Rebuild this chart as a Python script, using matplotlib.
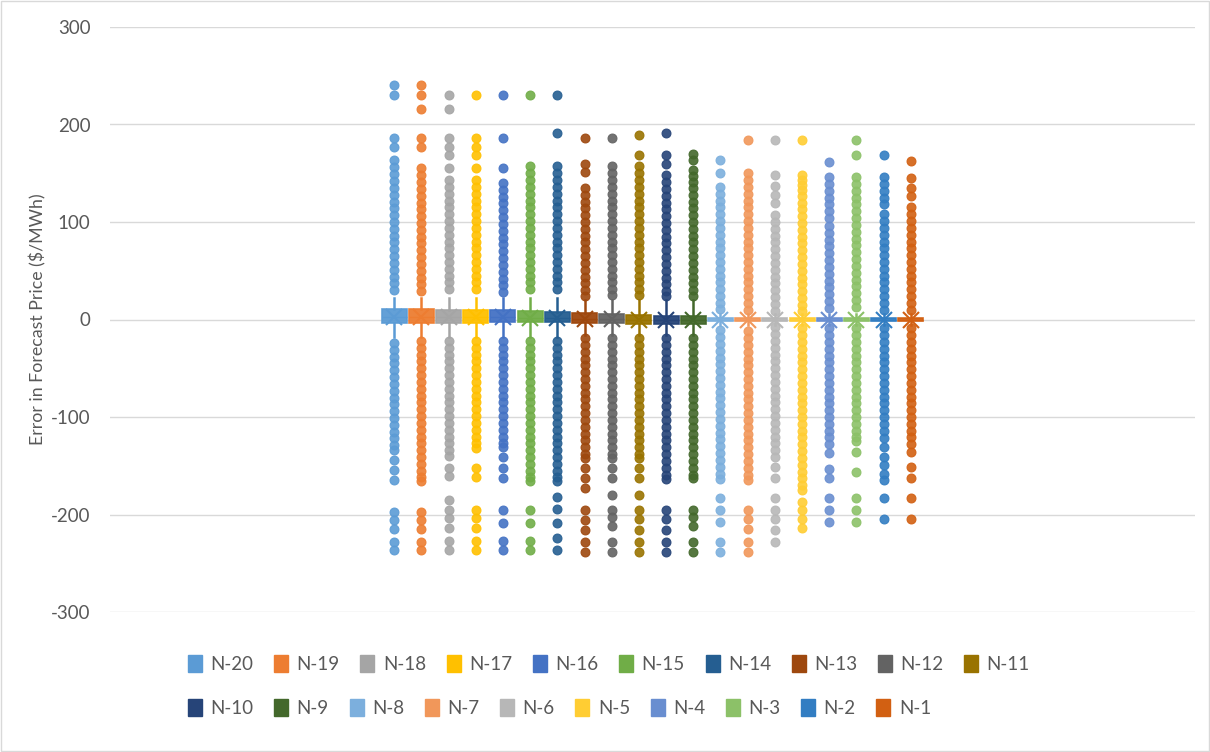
import matplotlib
matplotlib.use("Agg")
import matplotlib.pyplot as plt
from matplotlib.patches import Patch, Rectangle

plt.rcParams["font.family"] = ["Lato", "DejaVu Sans"]
plt.rcParams["axes.unicode_minus"] = False

TEXT = "#595959"
GRID = "#d9d9d9"

names = ["N-20", "N-19", "N-18", "N-17", "N-16", "N-15", "N-14", "N-13", "N-12", "N-11",
         "N-10", "N-9", "N-8", "N-7", "N-6", "N-5", "N-4", "N-3", "N-2", "N-1"]
colors = ["#5B9BD5", "#ED7D31", "#A5A5A5", "#FFC000", "#4472C4", "#70AD47", "#255E91", "#9E480E",
          "#636363", "#997300", "#264478", "#43682B", "#7CAFDD", "#F1975A", "#B7B7B7", "#FFCD33",
          "#698ED0", "#8CC168", "#327DC2", "#D26012"]

# box statistics
q1 = [-4, -4, -4, -4, -3, -3, -3, -4, -4, -5, -5, -5, -2, -2, -2, -2, -2, -2, -2, -2]
q3 = [11, 11, 10, 10, 10, 9, 8, 7, 6, 5, 4, 4, 2, 2, 2, 2, 2, 2, 2, 2]
med = [3, 3, 3, 3, 3, 2, 2, 1, 1, 0, 0, 0, 0, 0, 0, 0, 0, 0, 0, 0]
mean = [3, 3, 3, 3, 3, 2, 2, 1, 1, 0, 0, 0, 0, 0, 0, 0, 0, 0, 0, 0]
whis_hi = [22, 22, 22, 22, 22, 22, 22, 20, 20, 20, 20, 20, 6, 6, 6, 6, 6, 6, 6, 6]
whis_lo = [-18, -18, -18, -18, -18, -18, -18, -16, -16, -16, -16, -16, -6, -6, -6, -6, -6, -6, -6, -6]

# outliers per series
n20 = [240, 230, 186, 177, 164, 156, 149, 142, 135, 128, 121, 114, 107, 100, 93, 86, 79, 72, 65, 58, 51, 44, 37, 30,
       -24, -31, -38, -45, -52, -59, -66, -73, -80, -87, -94, -101, -108, -115, -122, -129, -134,
       -144, -154, -165, -197, -206, -215, -228, -236]
n19 = [240, 230, 216, 186, 177, 155, 148, 141, 134, 127, 120, 113, 106, 99, 92, 85, 78, 71, 64, 57, 50, 43, 36, 29,
       -22, -29, -36, -43, -50, -57, -64, -71, -78, -85, -92, -99, -106, -113, -120, -127, -134, -141, -148,
       -155, -162, -166, -197, -206, -215, -228, -236]
n18 = [230, 216, 186, 177, 169, 155, 143, 136, 129, 122, 115, 108, 101, 94, 87, 80, 73, 66, 59, 52, 45, 38, 31,
       -22, -29, -36, -43, -50, -57, -64, -71, -78, -85, -92, -99, -106, -113, -120, -127, -134, -140,
       -152, -161, -185, -195, -204, -214, -227, -236]
n17 = [230, 186, 177, 169, 155, 143, 136, 129, 122, 115, 108, 101, 94, 87, 80, 73, 66, 59, 52, 45, 38, 31,
       -22, -29, -36, -43, -50, -57, -64, -71, -78, -85, -92, -99, -106, -113, -120, -127, -132,
       -152, -162, -195, -204, -214, -227, -236]
n16 = [230, 186, 155, 140, 133, 126, 119, 112, 105, 98, 91, 84, 77, 70, 63, 56, 49, 42, 35, 28,
       -22, -29, -36, -43, -50, -57, -64, -71, -78, -85, -92, -99, -106, -113, -120, -127, -131,
       -141, -152, -163, -195, -209, -227, -236]
n15 = [230, 157, 150, 143, 136, 129, 122, 115, 108, 101, 94, 87, 80, 73, 66, 59, 52, 45, 38, 31,
       -22, -29, -36, -43, -50, -57, -64, -71, -78, -85, -92, -99, -106, -113, -120, -127, -134, -141, -148,
       -155, -162, -166, -195, -209, -227, -236]
n14 = [230, 191, 157, 150, 143, 136, 129, 122, 115, 108, 101, 94, 87, 80, 73, 66, 59, 52, 45, 38, 31,
       -22, -29, -36, -43, -50, -57, -64, -71, -78, -85, -92, -99, -106, -113, -120, -127, -134, -141, -148,
       -155, -162, -166, -182, -194, -209, -224, -236]
n13 = [186, 160, 151, 135, 128, 121, 114, 107, 100, 93, 86, 79, 72, 65, 58, 51, 44, 37, 30, 24,
       -19, -26, -33, -40, -47, -54, -61, -68, -75, -82, -89, -96, -103, -110, -117, -124, -131, -138, -142,
       -152, -163, -173, -195, -206, -216, -228, -238]
n12 = [186, 157, 150, 143, 136, 129, 122, 115, 108, 101, 94, 87, 80, 73, 66, 59, 52, 45, 38, 31, 25,
       -19, -26, -33, -40, -47, -54, -61, -68, -75, -82, -89, -96, -103, -110, -117, -124, -131, -138, -142,
       -152, -163, -180, -195, -203, -212, -228, -238]
n11 = [189, 169, 157, 150, 143, 136, 129, 122, 115, 108, 101, 94, 87, 80, 73, 66, 59, 52, 45, 38, 31, 25,
       -19, -26, -33, -40, -47, -54, -61, -68, -75, -82, -89, -96, -103, -110, -117, -124, -131, -138, -142,
       -152, -163, -180, -195, -205, -216, -228, -238]
n10 = [191, 169, 160, 148, 141, 134, 127, 120, 113, 106, 99, 92, 85, 78, 71, 64, 57, 50, 43, 36, 29, 24,
       -19, -26, -33, -40, -47, -54, -61, -68, -75, -82, -89, -96, -103, -110, -117, -124, -131, -138, -145,
       -152, -159, -164, -195, -205, -216, -228, -238]
n9 = [170, 164, 153, 147, 141, 135, 128, 121, 114, 107, 100, 93, 86, 79, 72, 65, 58, 51, 44, 37, 30, 24,
      -19, -26, -33, -40, -47, -54, -61, -68, -75, -82, -89, -96, -103, -110, -117, -124, -131, -138, -145,
      -152, -159, -163, -195, -203, -212, -228, -238]
n8 = [164, 150, 136, 129, 122, 115, 108, 101, 94, 87, 80, 73, 66, 59, 52, 45, 38, 31, 24, 17, 11,
      -11, -18, -25, -32, -39, -46, -53, -60, -67, -74, -81, -88, -95, -102, -109, -116, -123, -130, -137,
      -144, -151, -158, -164, -183, -195, -208, -228, -238]
n7 = [184, 150, 143, 136, 129, 122, 115, 108, 101, 94, 87, 80, 73, 66, 59, 52, 45, 38, 31, 24, 17, 10,
      -12, -19, -26, -33, -40, -47, -54, -61, -68, -75, -82, -89, -96, -103, -110, -117, -124, -131, -138,
      -145, -152, -159, -165, -195, -205, -215, -228, -238]
n6 = [184, 148, 137, 128, 120, 107, 100, 93, 86, 79, 72, 65, 58, 51, 44, 37, 30, 23, 16, 9,
      -8, -15, -22, -29, -36, -43, -50, -57, -64, -71, -78, -85, -92, -99, -106, -113, -120, -127, -134, -141,
      -151, -163, -183, -195, -205, -216, -228]
n5 = [184, 148, 143, 138, 133, 127, 120, 113, 106, 99, 92, 85, 78, 71, 64, 57, 50, 43, 36, 29, 22, 15, 9,
      -9, -16, -23, -30, -37, -44, -51, -58, -65, -72, -79, -86, -93, -100, -107, -114, -121, -128, -135,
      -142, -149, -156, -163, -170, -175, -187, -195, -205, -214]
n4 = [162, 146, 139, 132, 125, 118, 111, 104, 96, 89, 82, 75, 68, 61, 54, 47, 40, 33, 26, 19, 12,
      -9, -16, -23, -30, -37, -44, -51, -58, -65, -72, -79, -86, -93, -100, -107, -114, -121, -128, -137,
      -153, -163, -183, -195, -208]
n3 = [184, 169, 146, 139, 132, 125, 118, 111, 104, 97, 90, 83, 76, 69, 62, 55, 48, 41, 34, 27, 20, 13,
      -9, -16, -23, -30, -37, -44, -51, -58, -65, -72, -79, -86, -93, -100, -107, -114, -121, -125,
      -136, -156, -183, -195, -208]
n2 = [169, 146, 139, 132, 125, 118, 108, 101, 94, 87, 80, 73, 66, 59, 52, 45, 38, 31, 24, 17, 10,
      -9, -16, -23, -30, -37, -44, -51, -58, -65, -72, -79, -86, -93, -100, -107, -114, -122, -131,
      -141, -149, -158, -165, -183, -205]
n1 = [163, 145, 135, 127, 115, 108, 101, 94, 87, 80, 73, 66, 59, 52, 45, 38, 31, 24, 17, 10,
      -9, -16, -23, -30, -37, -44, -51, -58, -65, -72, -79, -86, -93, -100, -107, -114, -121, -128, -136,
      -151, -163, -183, -205]

outliers = [n20, n19, n18, n17, n16, n15, n14, n13, n12, n11, n10, n9, n8, n7, n6, n5, n4, n3, n2, n1]

fig = plt.figure(figsize=(12.1, 7.52), dpi=100)
ax = fig.add_axes([110 / 1210, 1 - 612 / 752, 1085 / 1210, 585 / 752])

for i, name in enumerate(names):
    c = colors[i]
    stat = dict(med=med[i], q1=q1[i], q3=q3[i], whislo=whis_lo[i], whishi=whis_hi[i],
                mean=mean[i], fliers=outliers[i], label=name)
    ax.bxp([stat], positions=[i], widths=0.92, patch_artist=True, showmeans=True,
           showcaps=False, manage_ticks=False,
           boxprops=dict(facecolor=c, edgecolor=c, linewidth=1.2, alpha=0.95),
           medianprops=dict(color=c, linewidth=1),
           whiskerprops=dict(color=c, linewidth=1.8),
           meanprops=dict(marker="x", markersize=11, markeredgecolor=c, markeredgewidth=1.5),
           flierprops=dict(marker="o", markersize=6.4, markerfacecolor=c, markeredgecolor=c,
                           markeredgewidth=0.8, alpha=0.9))

ax.set_xlim(-10.45, 29.45)
ax.set_ylim(-300, 300)
ax.set_yticks(range(-300, 301, 100))
ax.set_xticks([])
ax.grid(axis="y", color=GRID, linewidth=1)
ax.set_axisbelow(True)
for s in ax.spines.values():
    s.set_visible(False)
ax.tick_params(axis="y", length=0, pad=14, labelsize=13.5, labelcolor=TEXT)
ax.set_ylabel("Error in Forecast Price ($/MWh)", fontsize=12.8, color=TEXT, labelpad=3)

handles = [Patch(facecolor=c, edgecolor=c) for c in colors]
leg_kw = dict(frameon=False, fontsize=13.5, labelcolor=TEXT, handlelength=0.75, handleheight=1.0,
              handletextpad=0.45, columnspacing=1.1, borderpad=0, borderaxespad=0,
              loc="center left", bbox_transform=fig.transFigure)
fig.legend(handles[:10], names[:10], ncol=10, bbox_to_anchor=(188 / 1210, 1 - 664 / 752), **leg_kw)
fig.legend(handles[10:], names[10:], ncol=10, bbox_to_anchor=(188 / 1210, 1 - 708 / 752), **leg_kw)

fig.patches.append(Rectangle((0.001, 0.001), 0.998, 0.998, transform=fig.transFigure,
                             fill=False, edgecolor=GRID, linewidth=1))

fig.savefig("out.png", dpi=100)
